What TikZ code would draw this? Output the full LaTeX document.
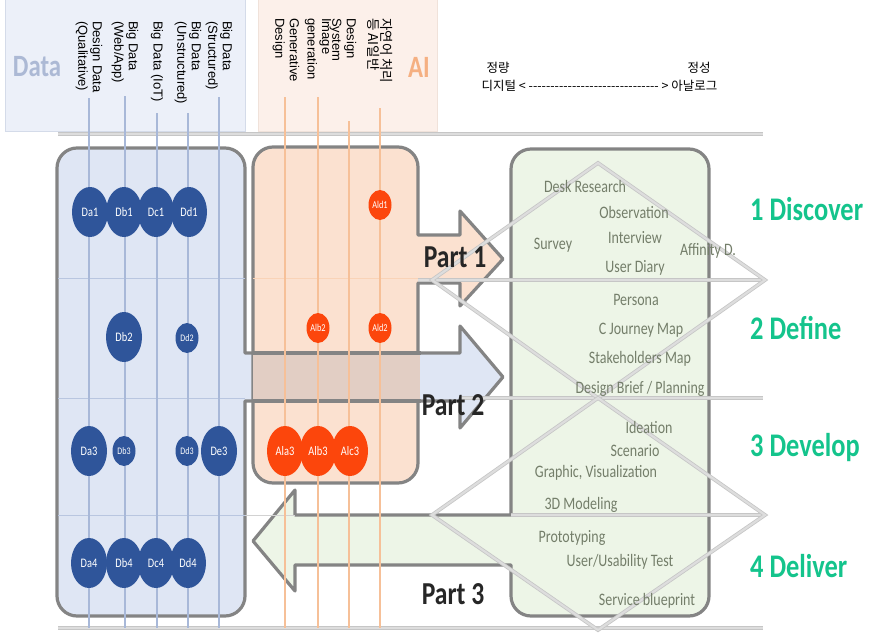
\documentclass[tikz,border=0pt]{standalone}
\usepackage{fontspec}
\setmainfont{Liberation Sans}
\newfontfamily\nf{Carlito}[FakeStretch=0.8]
\newfontfamily\kr{Noto Sans CJK KR}
\usetikzlibrary{shapes.geometric}
\definecolor{dblue}{RGB}{223,230,244}
\definecolor{peach}{RGB}{251,225,208}
\definecolor{lgreen}{RGB}{237,245,231}
\definecolor{bord}{RGB}{132,132,132}
\definecolor{hdblue}{RGB}{236,240,249}
\definecolor{hdbord}{RGB}{212,219,233}
\definecolor{hdpeach}{RGB}{252,240,234}
\definecolor{hdpbord}{RGB}{240,226,218}
\definecolor{cblue}{RGB}{47,85,154}
\definecolor{corange}{RGB}{252,70,12}
\definecolor{dcol}{RGB}{168,184,216}
\definecolor{acol}{RGB}{246,192,152}
\definecolor{itemc}{RGB}{116,126,106}
\definecolor{phasec}{RGB}{20,196,140}
\definecolor{overlapc}{RGB}{226,206,196}
\definecolor{datatxt}{RGB}{172,185,213}
\definecolor{aitxt}{RGB}{245,176,130}
\definecolor{partc}{RGB}{38,38,38}
\newcommand\rdash{\hbox{-}}
\newcommand\rdashes{\rdash\rdash\rdash\rdash\rdash\rdash\rdash\rdash\rdash\rdash\rdash\rdash\rdash\rdash\rdash\rdash\rdash\rdash\rdash\rdash\rdash\rdash\rdash\rdash\rdash\rdash\rdash\rdash\rdash\rdash}
\begin{document}
\begin{tikzpicture}[x=1pt,y=-1pt,
  panel/.style={draw=bord, line width=3.2pt, line join=round},
  heavy/.style={draw=gray!45, double=gray!27, double distance=2.2pt, line width=0.8pt},
  thinb/.style={draw=dcol!80, line width=1pt},
  thina/.style={draw=acol!70, line width=1pt},
  dline/.style={draw=dcol, line width=1.3pt},
  aline/.style={draw=acol, line width=1.1pt},
  dbig/.style={ellipse, fill=cblue, minimum width=36pt, minimum height=50pt, inner sep=0pt, text=white, font=\nf\fontsize{13}{13}\selectfont},
  dsmall/.style={dbig, minimum width=23pt, minimum height=30pt, font=\nf\fontsize{10}{10}\selectfont},
  abig/.style={dbig, fill=corange},
  asmall/.style={dsmall, fill=corange, font=\nf\fontsize{10.5}{10.5}\selectfont},
  vtext/.style={rotate=-90, anchor=west, align=left, font=\fontsize{13}{14.5}\selectfont, inner sep=1pt},
  item/.style={text=itemc, font=\nf\fontsize{17.5}{18}\selectfont, inner sep=0pt},
  phase/.style={text=phasec, anchor=west, font=\nf\bfseries\fontsize{33}{34}\selectfont, inner sep=0pt},
  part/.style={text=partc, font=\nf\bfseries\fontsize{32}{32}\selectfont, inner sep=0pt},
  krt/.style={font=\kr\fontsize{12.5}{14}\selectfont, inner sep=0pt}]
\useasboundingbox (0,0) rectangle (880,634);

% header boxes
\draw[fill=hdblue, draw=hdbord, line width=0.8pt] (5,-5) rectangle (245,131);
\draw[fill=hdpeach, draw=hdpbord, line width=0.8pt] (258,-5) rectangle (437,131);

% top and bottom rules
\draw[heavy] (58,134) -- (763,134);
\draw[heavy] (58,628) -- (763,628);

% data panel with Part 2 arrow
\draw[panel, fill=dblue] (57,596) -- (57,168) .. controls (57,157) and (66,148) .. (77,148) -- (225,148) .. controls (236,148) and (245,157) .. (245,168) -- (245,353) -- (460,353) -- (460,326) -- (503,377) -- (460,428) -- (460,401) -- (245,401) -- (245,596) .. controls (245,607) and (236,616) .. (225,616) -- (77,616) .. controls (66,616) and (57,607) .. (57,596) -- cycle;

% AI panel with Part 1 arrow
\draw[panel, fill=peach] (253,463) -- (253,167) .. controls (253,156) and (262,147) .. (273,147) -- (398,147) .. controls (409,147) and (418,156) .. (418,167) -- (418,235) -- (460,235) -- (460,211) -- (503,259) -- (460,306) -- (460,283) -- (418,283) -- (418,463) .. controls (418,474) and (409,483) .. (398,483) -- (273,483) .. controls (262,483) and (253,474) .. (253,463) -- cycle;

% overlap of Part 2 shaft and AI panel
\fill[overlapc] (253,353) rectangle (419.7,401);
\draw[panel] (252,353) -- (421,353);
\draw[panel] (252,401) -- (421,401);

% right panel with Part 3 arrow
\draw[panel, fill=lgreen] (511,515) -- (511,169) .. controls (511,158) and (520,149) .. (531,149) -- (689,149) .. controls (700,149) and (709,158) .. (709,169) -- (709,596) .. controls (709,607) and (700,616) .. (689,616) -- (531,616) .. controls (520,616) and (511,607) .. (511,596) -- (511,565) -- (295,565) -- (295,591) -- (253,541) -- (295,490) -- (295,515) -- cycle;

% row lines
\draw[thinb] (58,278) -- (245,278);
\draw[thina] (253,278) -- (418,278);
\draw[thinb] (58,398) -- (245,398);
\draw[thinb] (58,515) -- (245,515);
\draw[draw=gray!35, line width=1pt] (245,515) -- (295,515);
\draw[heavy] (418,280) -- (765,280);
\draw[heavy] (460,398) -- (763,398);
\draw[heavy] (511,515) -- (765,515);

% double diamond
\draw[heavy, line join=miter] (432,280) -- (598,163) -- (765,280) -- (598,398) -- cycle;
\draw[heavy, line join=miter] (432,515) -- (598,398) -- (765,515) -- (598,630) -- cycle;

% column headings
\node[vtext] (c1) at (89,20) {Design Data\\(Qualitative)};
\node[vtext] (c2) at (125,20) {Big Data\\(Web/App)};
\node[vtext] (c3) at (157,20) {Big Data (IoT)};
\node[vtext] (c4) at (188,20) {Big Data\\(Unstructured)};
\node[vtext] (c5) at (219,20) {Big Data\\(Structured)};
\node[vtext] (a1) at (286,17) {Generative\\Design};
\node[vtext] (a2) at (318,17) {Image\\generation};
\node[vtext] (a3) at (343,17) {Design\\System};
\node[vtext, font=\kr\fontsize{13.5}{13}\selectfont] (a4) at (380.5,17) {자연어 처리\\등 AI일반};

\node[font=\nf\bfseries\fontsize{31}{31}\selectfont, text=datatxt] (dlab) at (37,67) {Data};
\node[font=\nf\bfseries\fontsize{31}{31}\selectfont, text=aitxt] (ailab) at (419,67) {AI};

% column line ends
\coordinate (c1t) at (89,98);  \coordinate (c1b) at (89,628);
\coordinate (c2t) at (125,96); \coordinate (c2b) at (125,628);
\coordinate (c3t) at (157,113); \coordinate (c3b) at (157,628);
\coordinate (c4t) at (188,113); \coordinate (c4b) at (188,628);
\coordinate (c5t) at (219,97); \coordinate (c5b) at (219,628);
\coordinate (a1t) at (285,97); \coordinate (a1b) at (285,628);
\coordinate (a2t) at (318,97); \coordinate (a2b) at (318,628);
\coordinate (a3t) at (349,121); \coordinate (a3b) at (349,628);
\coordinate (a4t) at (380,108); \coordinate (a4b) at (380,628);
\foreach \n in {c1,c2,c3,c4,c5} \draw[dline] (\n t) -- (\n b);
\foreach \n in {a1,a2,a3,a4} \draw[aline] (\n t) -- (\n b);

% data circles
\node[dbig] (da1) at (90,212) {Da1};
\node[dbig] (db1) at (124,212) {Db1};
\node[dbig] (dc1) at (156,212) {Dc1};
\node[dbig] (dd1) at (189,212) {Dd1};
\node[dbig] (db2) at (124,337) {Db2};
\node[dsmall] (dd2) at (187,338) {Dd2};
\node[dbig] (da3) at (89,451) {Da3};
\node[dsmall] (db3) at (124,451) {Db3};
\node[dsmall] (dd3) at (187,451) {Dd3};
\node[dbig] (de3) at (219,451) {De3};
\node[dbig] (da4) at (89,563) {Da4};
\node[dbig] (db4) at (124,563) {Db4};
\node[dbig] (dc4) at (156,563) {Dc4};
\node[dbig] (dd4) at (188,563) {Dd4};

% AI circles
\node[asmall] (ald1) at (380,205) {Ald1};
\node[asmall] (alb2) at (318,328) {Alb2};
\node[asmall] (ald2) at (380,328) {Ald2};
\node[abig] (ala3) at (285,451) {Ala3};
\node[abig] (alb3) at (318,451) {Alb3};
\node[abig] (alc3) at (350,451) {Alc3};

% part labels
\node[part] (p1) at (455,257) {Part 1};
\node[part] (p2) at (453,405) {Part 2};
\node[part] (p3) at (453,594) {Part 3};

% scale text
\node[krt] (q1) at (498,68) {정량};
\node[krt] (q2) at (699,68) {정성};
\node[krt] (sc) at (599.5,86) {디지털 < \rdashes{} > 아날로그};

% method items
\node[item] (i1) at (585,186) {Desk Research};
\node[item] (i2) at (634,212) {Observation};
\node[item] (i3) at (635,238) {Interview};
\node[item] (i4) at (553,245) {Survey};
\node[item] (i5) at (708,251) {Affinity D.};
\node[item] (i6) at (635,268) {User Diary};
\node[item] (i7) at (636,300) {Persona};
\node[item] (i8) at (641,330) {C Journey Map};
\node[item] (i9) at (640,359) {Stakeholders Map};
\node[item] (i10) at (640,389) {Design Brief / Planning};
\node[item] (i11) at (649,427) {Ideation};
\node[item] (i12) at (635,451) {Scenario};
\node[item] (i13) at (596,473) {Graphic, Visualization};
\node[item] (i14) at (581,505) {3D Modeling};
\node[item] (i15) at (572,538) {Prototyping};
\node[item] (i16) at (620,562) {User/Usability Test};
\node[item] (i17) at (647,601) {Service blueprint};

% phases
\node[phase] (ph1) at (750,209) {1 Discover};
\node[phase] (ph2) at (750,328) {2 Define};
\node[phase] (ph3) at (750,448) {3 Develop};
\node[phase] (ph4) at (750,566) {4 Deliver};
\end{tikzpicture}
\end{document}
